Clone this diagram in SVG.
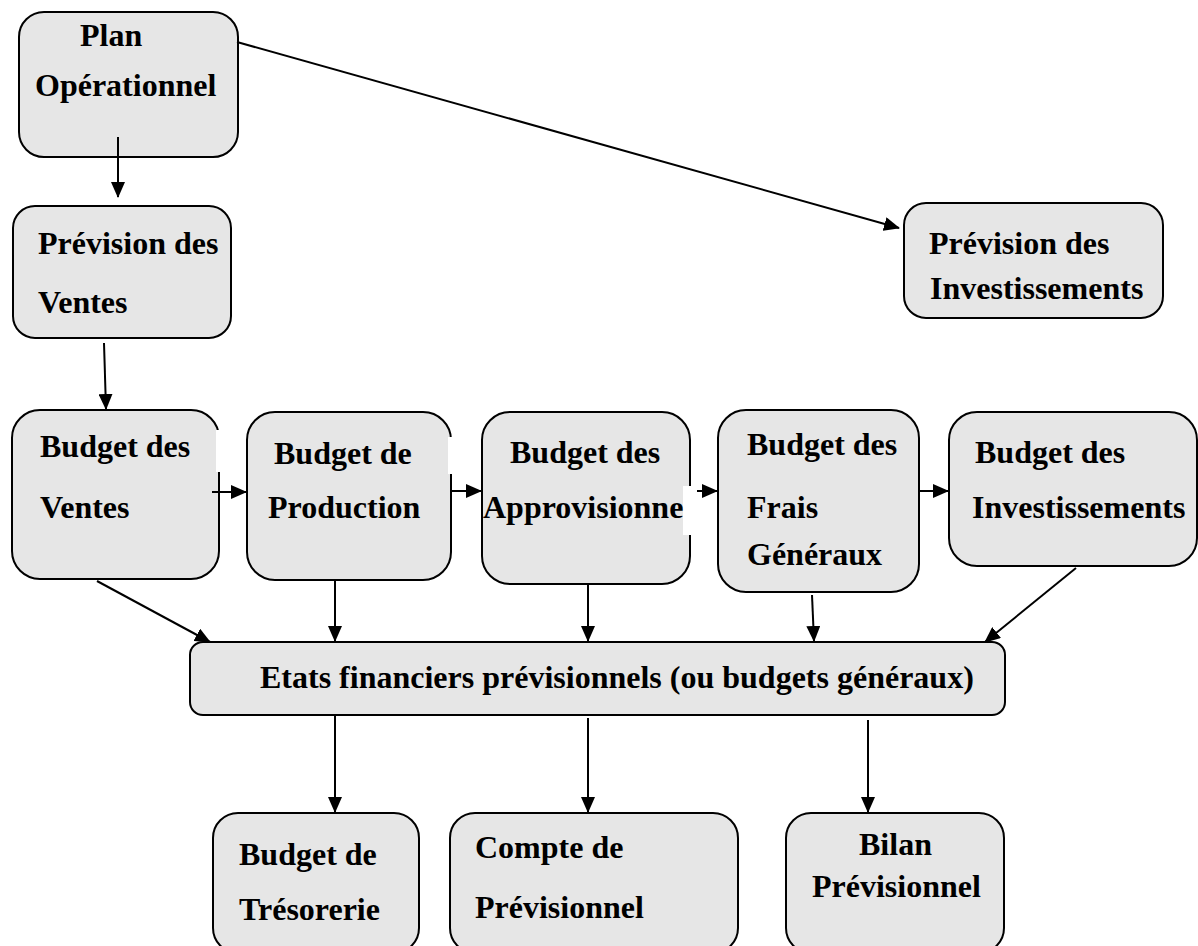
<svg xmlns="http://www.w3.org/2000/svg" width="1198" height="946" viewBox="0 0 1198 946">
  <style>
    .box { fill: #e6e6e6; stroke: #000; stroke-width: 2; }
    .lbl { font-family: "Liberation Serif", "Times New Roman", serif; font-weight: bold; font-size: 32px; fill: #000; }
    .edge { stroke: #000; stroke-width: 2; fill: none; marker-end: url(#arrow); }
    .gap { fill: #fff; }
  </style>
  <defs>
    <marker id="arrow" markerUnits="userSpaceOnUse" markerWidth="16" markerHeight="14" refX="15" refY="7" orient="auto">
      <path d="M0,0 L16,7 L0,14 z" fill="#000"/>
    </marker>
  </defs>
  <rect width="1198" height="946" fill="#fff"/>

  <g id="plan-operationnel">
    <rect class="box" x="19" y="12" width="219" height="145" rx="25"/>
    <text class="lbl" x="80" y="46">Plan</text>
    <text class="lbl" x="35" y="96">Opérationnel</text>
  </g>

  <g id="prevision-ventes">
    <rect class="box" x="13" y="206" width="218" height="132" rx="22"/>
    <text class="lbl" x="38" y="254">Prévision des</text>
    <text class="lbl" x="38" y="313">Ventes</text>
  </g>

  <g id="prevision-investissements">
    <rect class="box" x="904" y="203" width="259" height="115" rx="22"/>
    <text class="lbl" x="929" y="254">Prévision des</text>
    <text class="lbl" x="930" y="299">Investissements</text>
  </g>

  <g id="budget-ventes">
    <rect class="box" x="12" y="410" width="207" height="169" rx="28"/>
    <rect class="gap" x="216" y="430" width="6" height="42"/>
    <text class="lbl" x="40" y="457">Budget des</text>
    <text class="lbl" x="40" y="518">Ventes</text>
  </g>

  <g id="budget-production">
    <rect class="box" x="247" y="412" width="204" height="168" rx="28"/>
    <rect class="gap" x="448" y="437" width="6" height="37"/>
    <text class="lbl" x="274" y="464">Budget de</text>
    <text class="lbl" x="268" y="518">Production</text>
  </g>

  <g id="budget-approvisionnements">
    <rect class="box" x="482" y="412" width="208" height="172" rx="28"/>
    <rect class="gap" x="683" y="486" width="11" height="49"/>
    <text class="lbl" x="510" y="463">Budget des</text>
    <text class="lbl" x="483" y="518">Approvisionne</text>
  </g>

  <g id="budget-frais-generaux">
    <rect class="box" x="718" y="410" width="201" height="182" rx="28"/>
    <text class="lbl" x="747" y="455">Budget des</text>
    <text class="lbl" x="747" y="518">Frais</text>
    <text class="lbl" x="747" y="565">Généraux</text>
  </g>

  <g id="budget-investissements">
    <rect class="box" x="949" y="412" width="248" height="154" rx="28"/>
    <text class="lbl" x="975" y="463">Budget des</text>
    <text class="lbl" x="972" y="518">Investissements</text>
  </g>

  <g id="etats-financiers">
    <rect class="box" x="190" y="642" width="815" height="73" rx="13"/>
    <text class="lbl" x="260" y="688">Etats financiers prévisionnels (ou budgets généraux)</text>
  </g>

  <g id="budget-tresorerie">
    <rect class="box" x="213" y="813" width="206" height="140" rx="25"/>
    <text class="lbl" x="239" y="865">Budget de</text>
    <text class="lbl" x="239" y="920">Trésorerie</text>
  </g>

  <g id="compte-previsionnel">
    <rect class="box" x="450" y="813" width="288" height="140" rx="25"/>
    <text class="lbl" x="475" y="858">Compte de</text>
    <text class="lbl" x="475" y="918">Prévisionnel</text>
  </g>

  <g id="bilan-previsionnel">
    <rect class="box" x="786" y="813" width="218" height="140" rx="25"/>
    <text class="lbl" x="859" y="855">Bilan</text>
    <text class="lbl" x="812" y="897">Prévisionnel</text>
  </g>

  <g id="connectors">
    <line class="edge" x1="118" y1="137" x2="118" y2="197"/>
    <line class="edge" x1="237" y1="42" x2="899" y2="228"/>
    <line class="edge" x1="104" y1="343" x2="106" y2="409"/>

    <line class="edge" x1="212" y1="492" x2="246" y2="492"/>
    <line class="edge" x1="451" y1="491" x2="481" y2="491"/>
    <line class="edge" x1="697" y1="491" x2="717" y2="491"/>
    <line class="edge" x1="919" y1="491" x2="948" y2="491"/>

    <line class="edge" x1="97" y1="581" x2="210" y2="642"/>
    <line class="edge" x1="335" y1="580" x2="335" y2="641"/>
    <line class="edge" x1="588" y1="584" x2="588" y2="641"/>
    <line class="edge" x1="812" y1="595" x2="814" y2="641"/>
    <line class="edge" x1="1076" y1="568" x2="985" y2="642"/>

    <line class="edge" x1="335" y1="715" x2="335" y2="812"/>
    <line class="edge" x1="588" y1="718" x2="588" y2="812"/>
    <line class="edge" x1="868" y1="720" x2="868" y2="812"/>
  </g>
</svg>
